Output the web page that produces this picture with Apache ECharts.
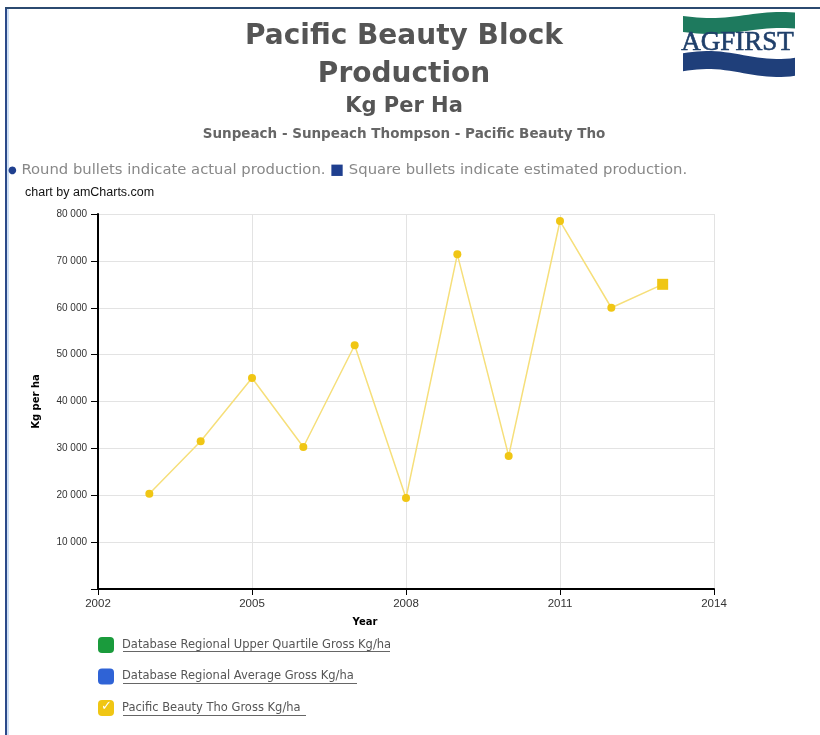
<!DOCTYPE html>
<html lang="en">
<head>
    <meta charset="UTF-8">
    <style>
        html, body { margin: 0; padding: 0; background: #fff; }
        #chart { width: 820px; height: 735px; }
    </style>
    <script src="https://cdn.jsdelivr.net/npm/echarts@6/dist/echarts.min.js"></script>
</head>
<body>
    <div id="chart"></div>
    <script>
        // data
        var years = [2003, 2004, 2005, 2006, 2007, 2008, 2009, 2010, 2011, 2012, 2013];
        var kgPerHa = [20300, 31500, 45000, 30300, 52000, 19400, 71400, 28400, 78500, 60000, 65000];
        var estimated = [false, false, false, false, false, false, false, false, false, false, true];
        var seriesNames = [
            'Database Regional Upper Quartile Gross Kg/ha',
            'Database Regional Average Gross Kg/ha',
            'Pacific Beauty Tho Gross Kg/ha'
        ];
        var seriesColors = ['#1a9b3c', '#2f63d6', '#f2c811'];

        var chart = echarts.init(document.getElementById('chart'));

        var lineData = years.map(function (y, i) {
            var item = { value: [y, kgPerHa[i]] };
            if (estimated[i]) {
                item.symbol = 'rect';
                item.symbolSize = 11;
            }
            return item;
        });

        // wavy band for the logo (decoration only)
        function band(x0, x1, yTop, yBot, amp, phase) {
            var top = [], bot = [];
            for (var k = 0; k <= 24; k++) {
                var x = x0 + (x1 - x0) * k / 24;
                var w = Math.sin(k / 24 * Math.PI * 1.6 + phase) * amp;
                top.push([x, yTop + w]);
                bot.unshift([x, yBot + w]);
            }
            return top.concat(bot);
        }

        var sans = 'DejaVu Sans';

        var option = {
            animation: false,
            backgroundColor: '#fff',
            title: [
                {
                    text: 'Pacific Beauty Block\nProduction',
                    left: 399, top: 13, textAlign: 'center',
                    textStyle: { fontFamily: sans, fontSize: 28, fontWeight: 'bold', color: '#555', lineHeight: 38 }
                },
                {
                    text: 'Kg Per Ha',
                    left: 399, top: 91, textAlign: 'center',
                    textStyle: { fontFamily: sans, fontSize: 21, fontWeight: 'bold', color: '#555' }
                },
                {
                    text: 'Sunpeach - Sunpeach Thompson - Pacific Beauty Tho',
                    left: 399, top: 122, textAlign: 'center',
                    textStyle: { fontFamily: sans, fontSize: 13.5, fontWeight: 'bold', color: '#666' }
                }
            ],
            grid: { left: 98, right: 106, top: 214, bottom: 146 },
            xAxis: {
                type: 'value',
                min: 2002, max: 2014, interval: 3,
                name: 'Year',
                nameLocation: 'middle',
                nameGap: 28,
                nameTextStyle: { fontFamily: sans, fontSize: 10, fontWeight: 'bold', color: '#000', padding: [0, 82, 0, 0] },
                axisLine: { lineStyle: { color: '#000', width: 2 } },
                axisTick: { show: true, length: 6, lineStyle: { color: '#000' } },
                axisLabel: {
                    fontFamily: 'Liberation Sans', fontSize: 11.5, color: '#333', margin: 9,
                    formatter: function (v) { return String(v); }
                },
                splitLine: { show: true, lineStyle: { color: '#e3e3e3' } }
            },
            yAxis: {
                type: 'value',
                min: 0, max: 80000, interval: 10000,
                name: 'Kg per ha',
                nameLocation: 'middle',
                nameGap: 57,
                nameTextStyle: { fontFamily: sans, fontSize: 10, fontWeight: 'bold', color: '#000' },
                axisLine: { show: true, lineStyle: { color: '#000', width: 2 } },
                axisTick: { show: true, length: 7, lineStyle: { color: '#000' } },
                axisLabel: {
                    fontFamily: 'Liberation Sans', fontSize: 10, color: '#333', margin: 11,
                    formatter: function (v) {
                        if (v === 0) return '';
                        return String(v).replace(/\B(?=(\d{3})+(?!\d))/g, ' ');
                    }
                },
                splitLine: { show: true, lineStyle: { color: '#e3e3e3' } }
            },
            legend: {
                orient: 'vertical',
                left: 98, top: 637,
                padding: 0,
                itemWidth: 16, itemHeight: 16, itemGap: 15.5,
                icon: 'roundRect',
                textStyle: { fontFamily: sans, fontSize: 11.5, color: '#555', padding: [2, 0, 0, 3] },
                data: seriesNames
            },
            series: [
                { name: seriesNames[0], type: 'line', data: [], color: seriesColors[0] },
                { name: seriesNames[1], type: 'line', data: [], color: seriesColors[1] },
                {
                    name: seriesNames[2],
                    type: 'line',
                    data: lineData,
                    color: seriesColors[2],
                    symbol: 'circle',
                    symbolSize: 8,
                    showAllSymbol: true,
                    lineStyle: { color: '#f6df7a', width: 1.5 },
                    itemStyle: { color: '#f0c614' }
                }
            ],
            graphic: [
                // page frame
                { type: 'rect', shape: { x: 5, y: 7, width: 2, height: 728 }, style: { fill: '#2b4a8a' } },
                { type: 'rect', shape: { x: 7, y: 9, width: 2, height: 726 }, style: { fill: '#cfe0f5' } },
                { type: 'rect', shape: { x: 5, y: 7, width: 815, height: 2 }, style: { fill: '#2b4a70' } },
                // AGFIRST logo
                { type: 'polygon', shape: { points: band(683, 795, 15, 31, 3, 0.3) }, style: { fill: '#1e7a5e' } },
                {
                    type: 'text', left: 681, top: 29,
                    style: { text: 'AGFIRST', font: '27px "Liberation Serif"', fill: '#1f3f6a', stroke: '#1f3f6a', lineWidth: 0.6 }
                },
                { type: 'polygon', shape: { points: band(683, 795, 55, 73, 4, 3.6) }, style: { fill: '#1f3f7a' } },
                // bullet note
                {
                    type: 'text', left: 8, top: 163,
                    style: {
                        text: '{d|●} Round bullets indicate actual production. {b|■} Square bullets indicate estimated production.',
                        font: '14.8px "DejaVu Sans"', fill: '#888',
                        rich: {
                            d: { fill: '#1f3f8f', font: '10px "DejaVu Sans"' },
                            b: { fill: '#1f3f8f', font: '14.8px "DejaVu Sans"' }
                        }
                    }
                },
                {
                    type: 'text', left: 25, top: 186,
                    style: { text: 'chart by amCharts.com', font: '12.5px "Liberation Sans"', fill: '#111' }
                },
                // legend underlines and checkmark
                { type: 'line', shape: { x1: 123, y1: 651.5, x2: 390, y2: 651.5 }, style: { stroke: '#666', lineWidth: 1 } },
                { type: 'line', shape: { x1: 123, y1: 683.5, x2: 357, y2: 683.5 }, style: { stroke: '#666', lineWidth: 1 } },
                { type: 'line', shape: { x1: 123, y1: 715.5, x2: 306, y2: 715.5 }, style: { stroke: '#666', lineWidth: 1 } },
                {
                    type: 'text', left: 101, top: 700, z: 100,
                    style: { text: '✓', font: 'bold 13px "DejaVu Sans"', fill: '#fff' }
                }
            ]
        };

        chart.setOption(option);
    </script>
</body>
</html>
